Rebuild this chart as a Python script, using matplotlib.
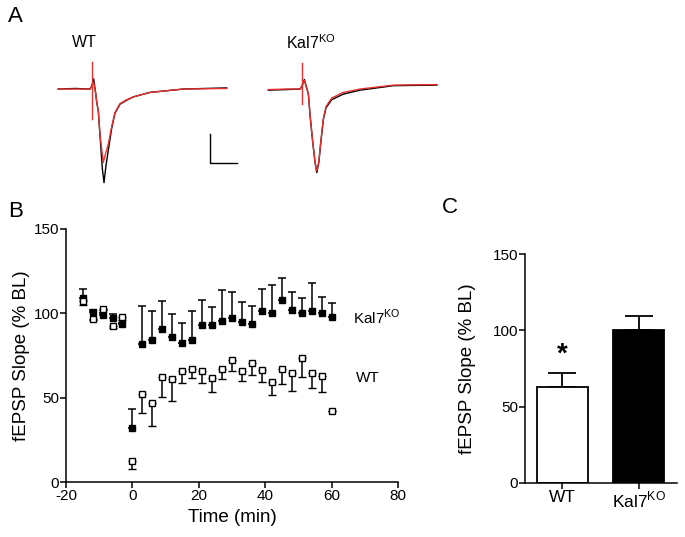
import numpy as np
import matplotlib
matplotlib.use("Agg")
import matplotlib.pyplot as plt

plt.rcParams["font.family"] = ["Liberation Sans", "DejaVu Sans"]
plt.rcParams["mathtext.fontset"] = "custom"
plt.rcParams["mathtext.rm"] = "Liberation Sans"
plt.rcParams["axes.linewidth"] = 1.1
plt.rcParams["axes.unicode_minus"] = False

KO_LABEL = r"Kal7$^{\mathrm{KO}}$"

# ---- Panel A: example traces (time in ms from stimulus, mV) ----
wt_t_black = [-6.2, -3.0, -0.3, 0.0, 0.37, 0.74, 0.93, 1.23, 1.66, 1.97, 2.28, 2.65,
              3.08, 3.7, 4.31, 5.24, 6.48, 7.7, 10.8, 17.0, 25.0]
wt_v_black = [0.0, 0.01, 0.0, 0.05, 0.18, -0.08, -0.23, -0.40, -1.0, -1.42, -1.67, -1.36,
              -1.09, -0.70, -0.43, -0.27, -0.20, -0.14, -0.06, 0.0, 0.02]
wt_t_red = [-6.2, -3.0, -0.3, 0.37, 0.74, 0.93, 1.23, 1.54, 1.85, 2.15, 2.46, 3.08,
            3.7, 4.31, 5.24, 6.48, 7.7, 10.8, 17.0, 25.0]
wt_v_red = [0.0, 0.0, 0.0, 0.12, -0.08, -0.23, -0.40, -0.82, -1.07, -1.31, -1.19, -0.98,
            -0.67, -0.42, -0.26, -0.19, -0.14, -0.06, 0.0, 0.01]
wt_artifact = [0.49, -0.54]

ko_t_black = [-6.2, -3.0, -0.3, 0.0, 0.48, 1.22, 1.54, 2.03, 2.46, 2.78, 3.15, 3.52,
              4.0, 4.5, 5.55, 7.7, 10.8, 17.0, 25.0]
ko_v_black = [-0.02, -0.01, 0.0, 0.04, 0.17, -0.09, -0.48, -0.95, -1.31, -1.49, -1.31, -0.95,
              -0.54, -0.33, -0.19, -0.09, -0.02, 0.06, 0.07]
ko_t_red = [-6.2, -3.0, -0.3, 0.48, 1.22, 1.54, 2.03, 2.46, 2.74, 3.15, 3.52,
            4.0, 4.5, 5.55, 7.7, 10.8, 17.0, 25.0]
ko_v_red = [-0.01, 0.0, 0.0, 0.15, -0.09, -0.48, -0.95, -1.31, -1.46, -1.30, -0.94,
            -0.52, -0.31, -0.16, -0.06, 0.0, 0.07, 0.08]
ko_artifact = [0.47, -0.27]

scale_ms = 5.0
scale_mv = 0.5

# ---- Panel B: fEPSP slope time course (% baseline) ----
time_min = [-15, -12, -9, -6, -3, 0, 3, 6, 9, 12, 15, 18, 21, 24, 27, 30,
            33, 36, 39, 42, 45, 48, 51, 54, 57, 60]
ko_mean = [109.0, 100.7, 98.8, 97.4, 93.3, 32.2, 82.0, 84.0, 90.7, 86.0, 82.4, 84.4, 92.9,
           92.9, 95.4, 97.2, 94.8, 93.4, 101.0, 100.1, 107.6, 101.7, 99.8, 101.3, 99.8, 97.8]
ko_sem = [5.5, 1.0, 1.0, 2.0, 1.0, 11.0, 22.0, 17.0, 16.3, 13.7, 12.0, 16.6, 14.7,
          10.8, 18.0, 15.3, 11.8, 11.0, 13.5, 16.4, 13.4, 10.8, 9.2, 16.5, 9.8, 8.2]
wt_mean = [107.2, 96.8, 102.7, 92.3, 97.8, 12.6, 52.0, 47.0, 62.0, 60.8, 65.9, 66.7, 65.9,
           61.4, 67.0, 72.2, 65.9, 70.6, 66.3, 59.4, 66.9, 64.7, 73.2, 64.7, 62.7, 42.3]
wt_sem = [2.5, 1.0, 1.0, 1.0, 2.0, 4.7, 11.0, 13.8, 11.8, 12.8, 7.1, 5.3, 7.1,
          7.9, 6.0, 6.3, 6.1, 7.3, 7.3, 8.0, 8.5, 10.6, 11.2, 9.2, 9.2, 0.0]

# ---- Panel C: summary bars ----
groups = ["WT", KO_LABEL]
bar_mean = [63.0, 100.0]
bar_sem = [9.2, 9.5]

fig = plt.figure(figsize=(6.85, 5.37), dpi=100)

# Panel A
axA = fig.add_axes([0.073, 0.6462, 0.584, 0.2514])
ko_offset = 38.9
red = "#e8302f"
axA.plot(wt_t_black, wt_v_black, color="black", lw=1.0)
axA.plot(wt_t_red, wt_v_red, color=red, lw=1.0)
axA.plot([0, 0], wt_artifact, color=red, lw=1.0)
axA.plot(np.array(ko_t_black) + ko_offset, ko_v_black, color="black", lw=1.0)
axA.plot(np.array(ko_t_red) + ko_offset, ko_v_red, color=red, lw=1.0)
axA.plot([ko_offset, ko_offset], ko_artifact, color=red, lw=1.0)
sb_x, sb_y = 21.9, -1.31
axA.plot([sb_x, sb_x, sb_x + scale_ms], [sb_y + scale_mv, sb_y, sb_y], color="black", lw=1.0)
axA.set_xlim(-7.72, 66.35)
axA.set_ylim(-1.80, 0.607)
axA.axis("off")
fig.text(0.105, 0.92, "WT", fontsize=11.5, ha="left", va="center")
fig.text(0.418, 0.92, KO_LABEL, fontsize=11.5, ha="left", va="center")

# Panel B
axB = fig.add_axes([0.0964, 0.1019, 0.4847, 0.4724])
axB.errorbar(time_min, ko_mean, yerr=[np.zeros(len(ko_sem)), ko_sem], fmt="s",
             color="black", mfc="black", mec="black", ms=4.5, elinewidth=1.1,
             capsize=2.6, capthick=1.1, zorder=3)
axB.errorbar(time_min, wt_mean, yerr=[wt_sem, np.zeros(len(wt_sem))], fmt="s",
             color="black", mfc="white", mec="black", ms=4.5, mew=1.0, elinewidth=1.1,
             capsize=2.6, capthick=1.1, zorder=4)
axB.set_xlim(-20, 80)
axB.set_ylim(0, 150)
axB.set_xticks([-20, 0, 20, 40, 60, 80])
axB.set_yticks([0, 50, 100, 150])
axB.spines["top"].set_visible(False)
axB.spines["right"].set_visible(False)
axB.tick_params(labelsize=11, length=4, width=1.1, pad=1)
axB.set_xlabel("Time (min)", fontsize=13.5, labelpad=4)
axB.set_ylabel("fEPSP Slope (% BL)", fontsize=13.5, labelpad=2.5)
axB.text(66.4, 97.6, KO_LABEL, fontsize=11, ha="left", va="center")
axB.text(67.3, 61.6, "WT", fontsize=11, ha="left", va="center")

# Panel C
axC = fig.add_axes([0.7664, 0.1011, 0.222, 0.4253])
xpos = np.arange(len(groups))
axC.bar(xpos, bar_mean, width=0.67, color=["white", "black"], edgecolor="black",
        linewidth=1.3, zorder=2)
axC.errorbar(xpos, bar_mean, yerr=[np.zeros(len(bar_sem)), bar_sem], fmt="none",
             ecolor="black", elinewidth=1.3, capsize=10, capthick=1.3, zorder=1)
axC.text(0, 84, "*", fontsize=20, fontweight="bold", ha="center", va="center")
axC.set_xlim(-0.49, 1.5)
axC.set_ylim(0, 150)
axC.set_xticks(xpos)
axC.set_xticklabels(groups)
axC.set_yticks([0, 50, 100, 150])
axC.spines["top"].set_visible(False)
axC.spines["right"].set_visible(False)
axC.tick_params(labelsize=11, length=4, width=1.1, pad=1)
axC.tick_params(axis="x", labelsize=12.5)
axC.set_ylabel("fEPSP Slope (% BL)", fontsize=13.5, labelpad=12)

fig.text(0.012, 0.97, "A", fontsize=16, ha="left", va="center")
fig.text(0.012, 0.607, "B", fontsize=16, ha="left", va="center")
fig.text(0.645, 0.614, "C", fontsize=16, ha="left", va="center")

fig.savefig("out.png", dpi=100)
